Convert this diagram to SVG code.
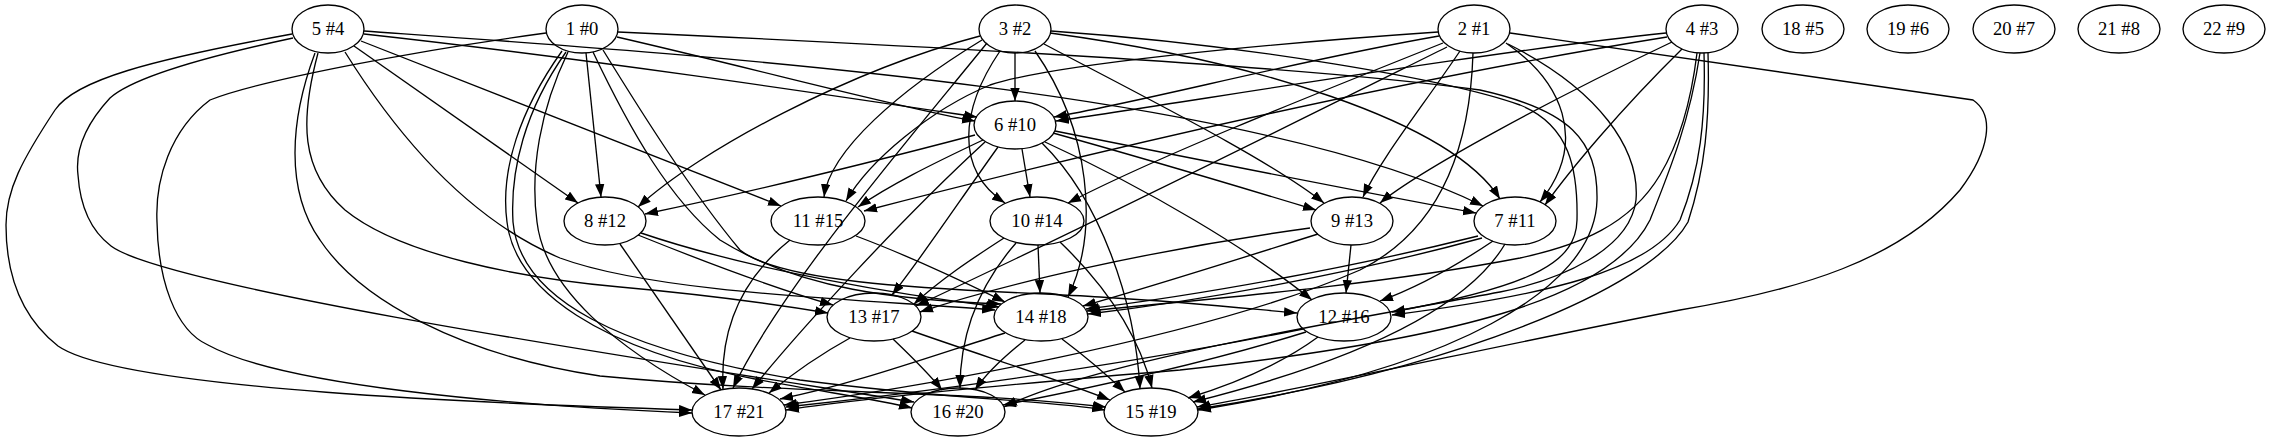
<svg xmlns="http://www.w3.org/2000/svg" width="2271" height="443" viewBox="0 0 2271 443">
<defs>
<marker id="ah" markerWidth="14" markerHeight="10" refX="13" refY="5" orient="auto" markerUnits="userSpaceOnUse"><path d="M0,0.3 L13,5 L0,9.7 z" fill="#000"/></marker>
<style>
.e path{fill:none;stroke:#000;stroke-width:1.33;marker-end:url(#ah)}
.n ellipse{fill:none;stroke:#000;stroke-width:1.33}
.n text{font-family:"Liberation Serif","Times New Roman",serif;font-size:18.67px;text-anchor:middle;fill:#000}
</style>
</defs>
<rect width="2271" height="443" fill="#fff"/>
<g id="edges" class="e">
<path d="M292,34 C150,60 75,80 55,110 C22,160 6,190 6,225 C6,280 25,320 58,346 C120,390 500,404 692,410"/>
<path d="M293,38 C190,60 130,80 110,98 C85,125 75,150 78,175 C80,205 90,230 111,246 C170,290 700,368 914,402"/>
<path d="M318,53 C300,120 300,170 345,210 C400,255 520,278 620,287 C720,296 780,305 828,313"/>
<path d="M315,53 C290,120 285,190 320,240 C360,300 460,355 600,376 C800,395 960,390 1106,407"/>
<path d="M345,52 C400,140 470,220 560,258 C660,295 880,300 995,310"/>
<path d="M354,46 L578,203"/>
<path d="M361,41 L781,206"/>
<path d="M364,34 C600,60 850,98 977,117"/>
<path d="M364,31 C700,55 1250,90 1483,206"/>
<path d="M546,33 C420,50 260,80 210,100 C170,130 155,180 157,222 C158,280 175,330 208,345 C280,385 500,405 692,413"/>
<path d="M617,37 C760,70 900,108 975,121"/>
<path d="M586,53 L601,197"/>
<path d="M618,32 C900,45 1300,65 1480,90 C1570,110 1598,140 1597,200 C1595,290 1450,370 1198,410"/>
<path d="M562,51 C520,110 500,170 507,222 C515,290 600,350 760,380 C830,393 880,400 912,408"/>
<path d="M566,52 C525,110 510,170 513,222 C520,300 620,350 800,380 C950,400 1050,400 1105,410"/>
<path d="M568,52 C540,110 530,170 537,222 C545,290 620,350 705,395"/>
<path d="M593,52 C630,130 670,200 720,240 C800,290 900,300 1001,304"/>
<path d="M603,50 C640,110 690,190 740,250 C790,290 1000,290 1100,297 C1200,303 1260,310 1297,313"/>
<path d="M1015,53 L1015,101"/>
<path d="M980,36 C850,70 700,150 638,207"/>
<path d="M982,40 C900,90 830,150 824,197"/>
<path d="M987,43 C900,150 780,290 733,388"/>
<path d="M1000,51 C960,110 955,170 1005,203"/>
<path d="M1035,51 C1090,130 1100,230 1068,297"/>
<path d="M1044,44 C1150,100 1270,160 1324,203"/>
<path d="M1050,33 C1250,60 1450,120 1500,199"/>
<path d="M1051,31 C1250,45 1450,80 1520,105 C1570,125 1578,170 1577,220 C1576,260 1540,285 1392,312"/>
<path d="M1438,32 C1250,45 1050,65 990,85 C930,110 870,160 846,201"/>
<path d="M1439,36 C1300,60 1150,100 1054,117"/>
<path d="M1443,43 C1300,100 1150,160 1068,203"/>
<path d="M1447,47 C1300,120 1100,220 916,306"/>
<path d="M1460,51 C1420,110 1380,160 1363,197"/>
<path d="M1473,53 C1470,150 1440,230 1360,270 C1200,340 900,390 784,405"/>
<path d="M1506,43 C1560,80 1590,140 1540,202"/>
<path d="M1508,44 C1600,90 1640,150 1636,200 C1630,250 1560,280 1500,292 C1350,320 1100,360 1004,407"/>
<path d="M1510,33 C1700,60 1900,90 1973,100 C1995,115 1990,150 1960,190 C1900,260 1800,290 1680,310 C1500,345 1300,390 1197,407"/>
<path d="M1666,33 C1500,50 1200,100 1056,121"/>
<path d="M1667,37 C1400,80 1100,150 864,211"/>
<path d="M1672,42 C1550,100 1420,170 1380,203"/>
<path d="M1682,49 C1620,110 1570,170 1545,205"/>
<path d="M1697,53 C1690,110 1675,150 1660,175 C1630,225 1580,245 1520,258 C1380,285 1200,300 1087,311"/>
<path d="M1700,53 C1690,120 1670,170 1650,220 C1610,300 1450,340 1180,370 C1000,385 850,400 786,410"/>
<path d="M1704,53 C1706,120 1700,170 1680,220 C1650,270 1550,295 1392,315"/>
<path d="M1708,53 C1710,120 1705,170 1688,222 C1650,290 1450,370 1198,409"/>
<path d="M975,135 C880,160 760,190 645,214"/>
<path d="M983,140 C930,165 890,185 858,207"/>
<path d="M998,147 C960,200 920,260 892,295"/>
<path d="M985,142 C900,220 800,330 752,389"/>
<path d="M1022,149 L1030,197"/>
<path d="M1042,143 C1100,200 1135,300 1140,389"/>
<path d="M1045,142 C1150,190 1250,250 1312,300"/>
<path d="M1053,133 C1150,160 1250,190 1316,210"/>
<path d="M1055,131 C1200,160 1350,190 1476,213"/>
<path d="M620,244 L721,390"/>
<path d="M638,235 C700,260 780,290 833,305"/>
<path d="M641,233 C750,270 900,295 999,307"/>
<path d="M790,240 C740,280 720,330 723,389"/>
<path d="M856,236 C920,260 970,285 1005,302"/>
<path d="M1004,238 C970,260 940,280 914,304"/>
<path d="M1038,245 L1040,293"/>
<path d="M1016,243 C975,290 960,340 960,388"/>
<path d="M1060,242 C1110,290 1140,340 1152,388"/>
<path d="M1310,228 C1150,250 1000,285 920,312"/>
<path d="M1318,234 C1220,265 1140,290 1083,306"/>
<path d="M1351,245 L1346,293"/>
<path d="M1478,236 C1350,268 1200,295 1086,309"/>
<path d="M1482,238 C1350,274 1200,301 1088,314"/>
<path d="M1493,241 C1450,270 1410,290 1380,301"/>
<path d="M1505,244 C1460,320 1320,370 1193,402"/>
<path d="M850,338 C810,360 785,380 769,393"/>
<path d="M893,339 C915,360 930,375 942,390"/>
<path d="M912,331 C980,355 1060,380 1110,400"/>
<path d="M1005,333 C920,360 850,385 780,399"/>
<path d="M1025,340 C1000,360 985,375 975,390"/>
<path d="M1062,339 C1090,360 1110,378 1125,392"/>
<path d="M1303,329 C1100,370 900,395 786,407"/>
<path d="M1306,332 C1200,365 1080,390 1003,405"/>
<path d="M1318,337 C1280,365 1230,385 1188,398"/>
</g>
<g id="n5_4" class="n"><ellipse cx="328" cy="29" rx="36" ry="24"/><text x="328" y="35">5 #4</text></g>
<g id="n1_0" class="n"><ellipse cx="582" cy="29" rx="36" ry="24"/><text x="582" y="35">1 #0</text></g>
<g id="n3_2" class="n"><ellipse cx="1015" cy="29" rx="36" ry="24"/><text x="1015" y="35">3 #2</text></g>
<g id="n2_1" class="n"><ellipse cx="1474" cy="29" rx="36" ry="24"/><text x="1474" y="35">2 #1</text></g>
<g id="n4_3" class="n"><ellipse cx="1702" cy="29" rx="36" ry="24"/><text x="1702" y="35">4 #3</text></g>
<g id="n18_5" class="n"><ellipse cx="1803" cy="29" rx="41" ry="24"/><text x="1803" y="35">18 #5</text></g>
<g id="n19_6" class="n"><ellipse cx="1908" cy="29" rx="41" ry="24"/><text x="1908" y="35">19 #6</text></g>
<g id="n20_7" class="n"><ellipse cx="2014" cy="29" rx="41" ry="24"/><text x="2014" y="35">20 #7</text></g>
<g id="n21_8" class="n"><ellipse cx="2119" cy="29" rx="41" ry="24"/><text x="2119" y="35">21 #8</text></g>
<g id="n22_9" class="n"><ellipse cx="2224" cy="29" rx="41" ry="24"/><text x="2224" y="35">22 #9</text></g>
<g id="n6_10" class="n"><ellipse cx="1015" cy="125" rx="41" ry="24"/><text x="1015" y="131">6 #10</text></g>
<g id="n8_12" class="n"><ellipse cx="605" cy="221" rx="41" ry="24"/><text x="605" y="227">8 #12</text></g>
<g id="n11_15" class="n"><ellipse cx="818" cy="221" rx="47" ry="24"/><text x="818" y="227">11 #15</text></g>
<g id="n10_14" class="n"><ellipse cx="1037" cy="221" rx="47" ry="24"/><text x="1037" y="227">10 #14</text></g>
<g id="n9_13" class="n"><ellipse cx="1352" cy="221" rx="41" ry="24"/><text x="1352" y="227">9 #13</text></g>
<g id="n7_11" class="n"><ellipse cx="1515" cy="221" rx="41" ry="24"/><text x="1515" y="227">7 #11</text></g>
<g id="n13_17" class="n"><ellipse cx="874" cy="317" rx="47" ry="24"/><text x="874" y="323">13 #17</text></g>
<g id="n14_18" class="n"><ellipse cx="1041" cy="317" rx="47" ry="24"/><text x="1041" y="323">14 #18</text></g>
<g id="n12_16" class="n"><ellipse cx="1344" cy="317" rx="47" ry="24"/><text x="1344" y="323">12 #16</text></g>
<g id="n17_21" class="n"><ellipse cx="739" cy="412" rx="47" ry="24"/><text x="739" y="418">17 #21</text></g>
<g id="n16_20" class="n"><ellipse cx="958" cy="412" rx="47" ry="24"/><text x="958" y="418">16 #20</text></g>
<g id="n15_19" class="n"><ellipse cx="1151" cy="412" rx="47" ry="24"/><text x="1151" y="418">15 #19</text></g>
</svg>
